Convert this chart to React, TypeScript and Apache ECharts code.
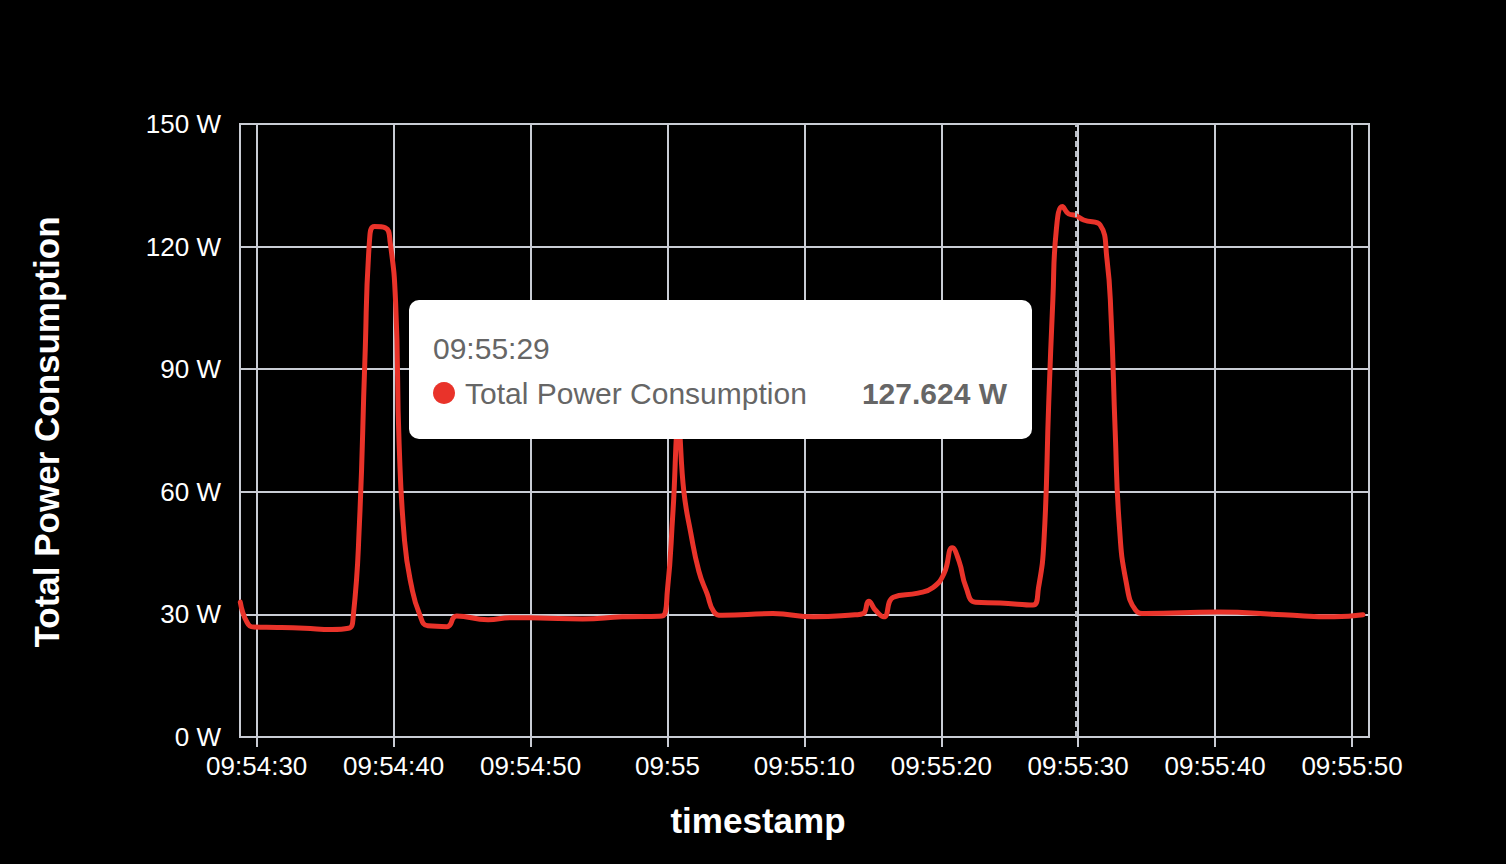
import * as echarts from 'echarts';
import { useEffect, useRef } from 'react';

// seconds after 09:54:00 for each sample
const seconds = [
  28.8, 29.3, 29.8, 31.5, 33.5, 35.5, 36.7, 37.05, 37.5, 37.9, 38.25, 38.6, 39.4, 39.75, 40.15, 40.4, 40.8,
  41.3, 41.9, 42.5, 43.9, 44.6, 46.9, 48.5, 50.7, 53.8, 56.7, 59.6, 60.0, 60.4, 60.8, 61.2, 61.7, 62.3,
  62.9, 63.4, 64.0, 67.7, 70.7, 73.7, 74.3, 74.7, 75.2, 75.8, 76.5, 78.3, 79.4, 80.2, 80.8, 81.3, 81.8,
  82.5, 84.3, 86.7, 87.1, 87.5, 87.85, 88.15, 88.4, 88.85, 89.3, 89.82, 90.4, 91.6, 92.1, 92.4, 92.7,
  93.0, 93.5, 94.2, 94.9, 100.2, 105.0, 108.7, 110.8,
];

// watts for each sample
const watts = [
  33.0, 28.0, 26.9, 26.8, 26.6, 26.3, 26.6, 29.5, 52, 92, 122, 124.9, 124.6, 121, 106, 72, 48,
  37, 30, 27.2, 27.0, 29.6, 28.7, 29.2, 29.1, 28.9, 29.4, 29.6, 36, 55, 76, 60, 50, 40.5,
  35, 30.6, 29.8, 30.2, 29.4, 29.9, 30.2, 33.2, 31, 29.4, 34.2, 35.2, 36.6, 40, 46.3, 43, 36.7,
  33, 32.8, 32.3, 36.5, 48, 82, 107, 124, 129.8, 128, 127.624, 126.5, 125.3, 117, 103, 75,
  52, 38, 31, 30.2, 30.6, 29.9, 29.4, 29.9,
];

const yTicks = [0, 30, 60, 90, 120, 150];
const seriesName = 'Total Power Consumption';
const pointerIndex = 61; // sample shown in the tooltip

const base = Date.UTC(2024, 0, 1, 9, 54, 0);
const toMs = (s: number) => Math.round(base + s * 1000);

const pad = (n: number) => String(n).padStart(2, '0');
const fmtTime = (ms: number, full = false) => {
  const d = new Date(ms);
  const hm = `${pad(d.getUTCHours())}:${pad(d.getUTCMinutes())}`;
  if (!full && d.getUTCSeconds() === 0) return hm;
  return `${hm}:${pad(d.getUTCSeconds())}`;
};

const FONT = '"Liberation Sans", Arial, Helvetica, sans-serif';
const GRID = '#c9ccd4';
const RED = '#e9332a';

const App = () => {
  const chartRef = useRef<HTMLDivElement>(null);

  useEffect(() => {
    document.body.style.margin = '0';
    if (!chartRef.current) return;
    const chart = echarts.init(chartRef.current, undefined, { renderer: 'svg' });

    const data = seconds.map((s, i) => [toMs(s), watts[i]]);
    const pointerTime = toMs(seconds[pointerIndex]);
    const pointerValue = watts[pointerIndex];

    const option: echarts.EChartsOption = {
      animation: false,
      useUTC: true,
      backgroundColor: '#000',
      textStyle: { fontFamily: FONT },
      grid: {
        left: 240,
        right: 137,
        top: 124,
        bottom: 127,
        show: true,
        borderColor: GRID,
        borderWidth: 2,
        backgroundColor: 'transparent',
      },
      xAxis: {
        type: 'time',
        min: toMs(28.78),
        max: toMs(111.24),
        splitNumber: 8,
        axisLine: { lineStyle: { color: GRID, width: 2 } },
        axisTick: { show: true, length: 10, lineStyle: { color: GRID, width: 2 } },
        axisLabel: {
          color: '#fff',
          fontSize: 26,
          fontFamily: FONT,
          margin: 16,
          showMinLabel: false,
          showMaxLabel: false,
          formatter: (v: number) => fmtTime(v),
        },
        splitLine: { show: true, lineStyle: { color: GRID, width: 2 } },
      },
      yAxis: {
        type: 'value',
        min: yTicks[0],
        max: yTicks[yTicks.length - 1],
        interval: yTicks[1] - yTicks[0],
        axisLine: { show: true, lineStyle: { color: GRID, width: 2 } },
        axisTick: { show: false },
        axisLabel: {
          color: '#fff',
          fontSize: 26,
          fontFamily: FONT,
          margin: 19,
          formatter: '{value} W',
        },
        splitLine: { show: true, lineStyle: { color: GRID, width: 2 } },
      },
      series: [
        {
          name: seriesName,
          type: 'line',
          data,
          smooth: 0.5,
          showSymbol: false,
          lineStyle: { color: RED, width: 5, cap: 'round', join: 'round' },
          itemStyle: { color: RED },
          markLine: {
            silent: true,
            symbol: ['none', 'none'],
            label: { show: false },
            lineStyle: { color: '#b8bcc4', width: 2, type: [6, 4] },
            data: [{ xAxis: pointerTime }],
          },
        },
      ],
      graphic: [
        {
          type: 'text',
          x: 46,
          y: 432,
          rotation: Math.PI / 2,
          z: 100,
          style: {
            text: seriesName,
            fill: '#fff',
            font: `bold 35px ${FONT}`,
            align: 'center',
            verticalAlign: 'middle',
          },
        },
        {
          type: 'text',
          x: 758,
          y: 820,
          z: 100,
          style: {
            text: 'timestamp',
            fill: '#fff',
            font: `bold 35px ${FONT}`,
            align: 'center',
            verticalAlign: 'middle',
          },
        },
        // tooltip box
        {
          type: 'rect',
          z: 100,
          shape: { x: 409, y: 300, width: 623, height: 139, r: 10 },
          style: { fill: '#fff' },
        },
        {
          type: 'text',
          x: 433,
          y: 348,
          z: 101,
          style: {
            text: fmtTime(pointerTime, true),
            fill: '#666',
            font: `30px ${FONT}`,
            verticalAlign: 'middle',
          },
        },
        {
          type: 'circle',
          z: 101,
          shape: { cx: 444, cy: 393, r: 11 },
          style: { fill: RED },
        },
        {
          type: 'text',
          x: 465,
          y: 393,
          z: 101,
          style: {
            text: seriesName,
            fill: '#666',
            font: `30px ${FONT}`,
            verticalAlign: 'middle',
          },
        },
        {
          type: 'text',
          x: 1007,
          y: 393,
          z: 101,
          style: {
            text: `${pointerValue} W`,
            fill: '#666',
            font: `bold 30px ${FONT}`,
            align: 'right',
            verticalAlign: 'middle',
          },
        },
      ],
    };

    chart.setOption(option);
    return () => {
      chart.dispose();
    };
  }, []);

  return <div ref={chartRef} style={{ width: 1506, height: 864, background: '#000' }} />;
};

export default App;
